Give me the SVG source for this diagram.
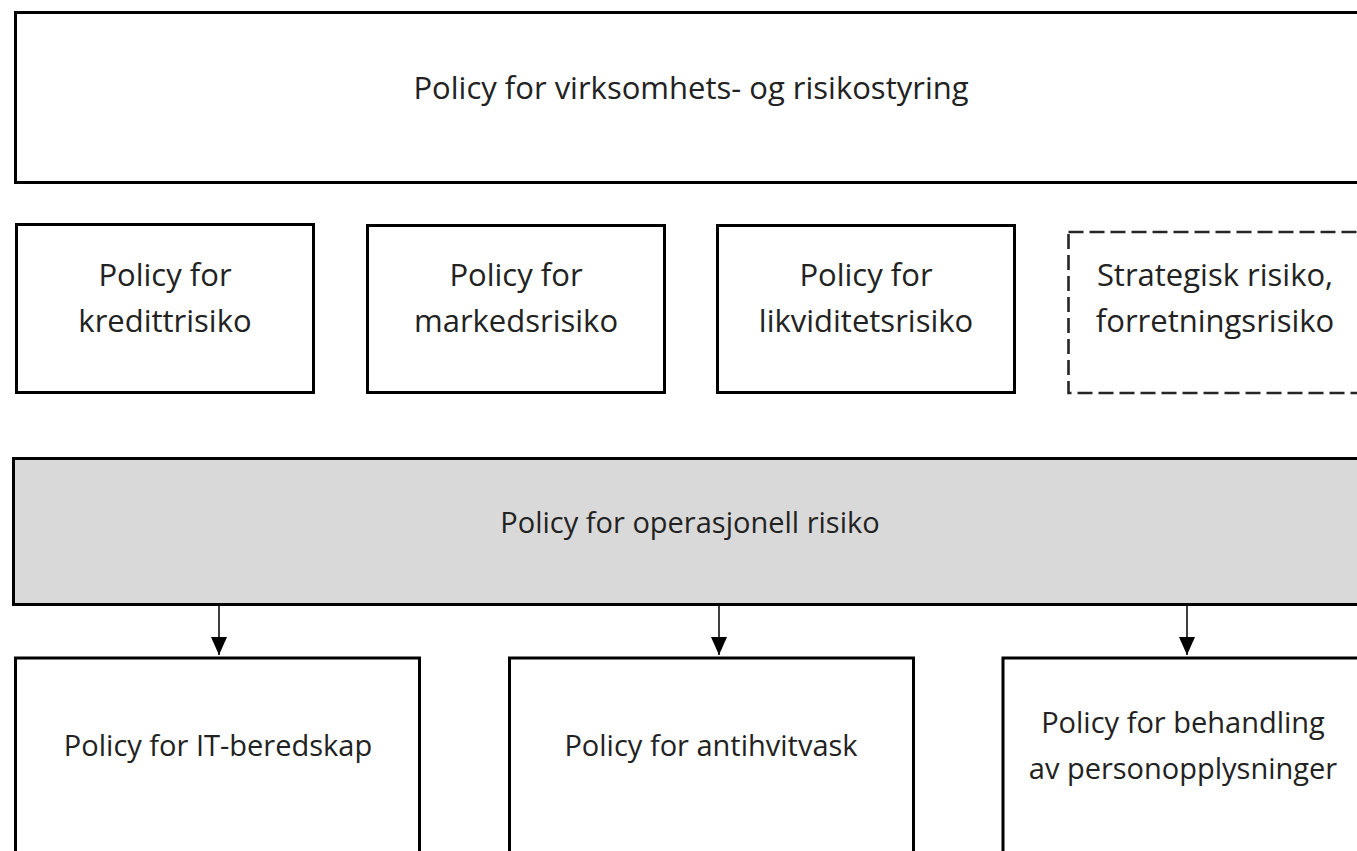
<svg xmlns="http://www.w3.org/2000/svg" width="1357" height="851" viewBox="0 0 1357 851">
<style>
.box{fill:#ffffff;stroke:#000000;stroke-width:3}
.dash{fill:#ffffff;stroke:#262626;stroke-width:2.6;stroke-dasharray:15 6}
.gray{fill:#d9d9d9;stroke:#000000;stroke-width:3}
.t{font-family:"Open Sans","Noto Sans",sans-serif;font-size:29px;fill:#222222;text-anchor:middle}
.tl{font-size:31px}
.conn{stroke:#000000;stroke-width:1.5;fill:none}
</style>
<defs>
<marker id="arr" markerUnits="userSpaceOnUse" markerWidth="20" markerHeight="16" refX="18" refY="8" orient="auto">
<path d="M0,0 L18,8 L0,16 Z" fill="#000000"/>
</marker>
</defs>
<rect width="1357" height="851" fill="#ffffff"/>
<g id="top">
<rect class="box" x="15.5" y="12.5" width="1360" height="170"/>
<text class="t tl" x="691" y="99">Policy for virksomhets- og risikostyring</text>
</g>
<g id="kreditt">
<rect class="box" x="16.5" y="224.5" width="297" height="168"/>
<text class="t tl" x="165" y="286">Policy for</text>
<text class="t tl" x="165" y="332">kredittrisiko</text>
</g>
<g id="marked">
<rect class="box" x="367.5" y="225.5" width="297" height="167"/>
<text class="t tl" x="516" y="286">Policy for</text>
<text class="t tl" x="516" y="332">markedsrisiko</text>
</g>
<g id="likviditet">
<rect class="box" x="717.5" y="225.5" width="297" height="167"/>
<text class="t tl" x="866" y="286">Policy for</text>
<text class="t tl" x="866" y="332">likviditetsrisiko</text>
</g>
<g id="strategisk">
<rect class="dash" x="1068.5" y="232" width="320" height="161"/>
<text class="t tl" x="1215" y="286">Strategisk risiko,</text>
<text class="t tl" x="1215" y="332">forretningsrisiko</text>
</g>
<g id="operasjonell">
<rect class="gray" x="13.5" y="458.5" width="1360" height="146"/>
<text class="t" x="690" y="533">Policy for operasjonell risiko</text>
</g>
<g id="it">
<rect class="box" x="15.5" y="658" width="404" height="220"/>
<text class="t" x="218" y="756">Policy for IT-beredskap</text>
</g>
<g id="antihvitvask">
<rect class="box" x="509.5" y="658" width="404" height="220"/>
<text class="t" x="711" y="756">Policy for antihvitvask</text>
</g>
<g id="personopplysninger">
<rect class="box" x="1003" y="658" width="404" height="220"/>
<text class="t" x="1183" y="733">Policy for behandling</text>
<text class="t" x="1183" y="779">av personopplysninger</text>
</g>
<g id="connectors">
<line class="conn" x1="219" y1="606" x2="219" y2="655" marker-end="url(#arr)"/>
<line class="conn" x1="719" y1="606" x2="719" y2="655" marker-end="url(#arr)"/>
<line class="conn" x1="1187" y1="606" x2="1187" y2="655" marker-end="url(#arr)"/>
</g>
</svg>
